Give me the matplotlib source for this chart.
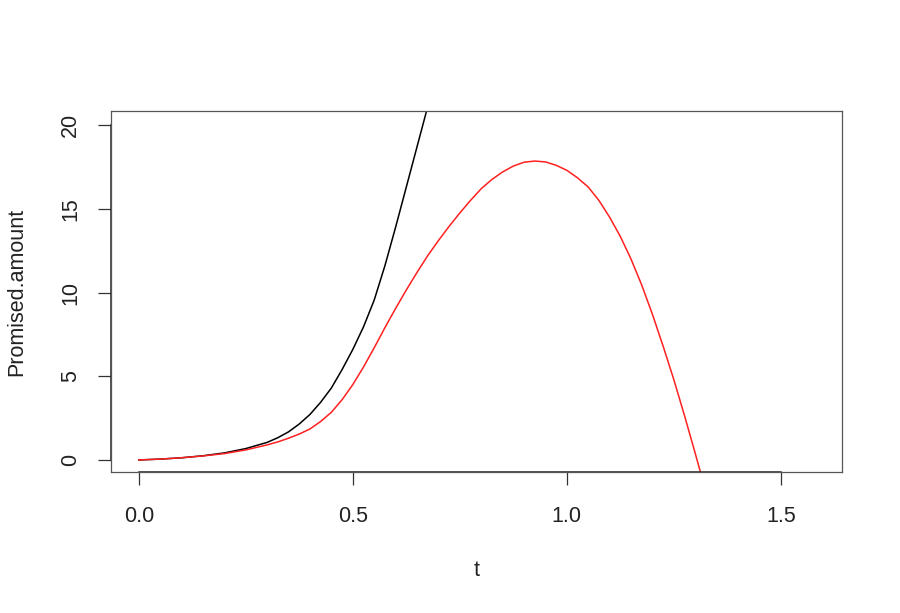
import matplotlib
matplotlib.use("Agg")
import matplotlib.pyplot as plt

plt.rcParams['font.family'] = ['Liberation Sans', 'DejaVu Sans']

# values
t_black = [0, 0.05, 0.1, 0.15, 0.2, 0.25, 0.3, 0.325, 0.35, 0.375, 0.4, 0.425, 0.45,
           0.475, 0.5, 0.525, 0.55, 0.575, 0.6, 0.625, 0.65, 0.675, 0.7, 0.75]
amount_black = [0, 0.05, 0.13, 0.25, 0.42, 0.68, 1.05, 1.33, 1.68, 2.15, 2.72, 3.45, 4.3,
                5.4, 6.6, 7.95, 9.55, 11.6, 13.9, 16.3, 18.7, 21.1, 23.5, 28.3]

t_red = [0, 0.05, 0.1, 0.15, 0.2, 0.25, 0.3, 0.325, 0.35, 0.375, 0.4, 0.425, 0.45, 0.475,
         0.5, 0.525, 0.55, 0.575, 0.6, 0.625, 0.65, 0.675, 0.7, 0.725, 0.75, 0.775, 0.8,
         0.825, 0.85, 0.875, 0.9, 0.925, 0.95, 0.975, 1.0, 1.025, 1.05, 1.075, 1.1, 1.125,
         1.15, 1.175, 1.2, 1.225, 1.25, 1.275, 1.3, 1.325, 1.35]
amount_red = [0, 0.05, 0.13, 0.24, 0.38, 0.6, 0.9, 1.08, 1.3, 1.55, 1.85, 2.3, 2.85, 3.6,
              4.5, 5.55, 6.7, 7.9, 9.05, 10.15, 11.2, 12.2, 13.1, 13.95, 14.75, 15.5, 16.2,
              16.75, 17.2, 17.55, 17.78, 17.85, 17.8, 17.6, 17.3, 16.85, 16.3, 15.5, 14.5, 13.35,
              12.0, 10.45, 8.7, 6.8, 4.8, 2.65, 0.4, -1.9, -4.3]

x_ticks = [0.0, 0.5, 1.0, 1.5]
x_labels = ['0.0', '0.5', '1.0', '1.5']
y_ticks = [0, 5, 10, 15, 20]

fig = plt.figure(figsize=(9, 6.13), dpi=100)
ax = fig.add_axes([111 / 900, 141 / 613, 731 / 900, 361 / 613])

ax.plot(t_black, amount_black, color='black', lw=1.1)
ax.plot(t_red, amount_red, color='#ff2020', lw=1.1)

ax.set_xlim(-0.065, 1.643)
ax.set_ylim(-0.72, 20.84)

ax.set_xticks(x_ticks)
ax.set_xticklabels(x_labels)
ax.set_yticks(y_ticks)
ax.tick_params(axis='both', direction='out', length=9.5, width=0.9, color='#333333',
               labelsize=15.5, labelcolor='#222222')
ax.tick_params(axis='x', pad=15)
ax.tick_params(axis='y', pad=12, labelrotation=90)
for lab in ax.get_yticklabels():
    lab.set_verticalalignment('center')

for sp in ax.spines.values():
    sp.set_linewidth(0.9)
    sp.set_color('#555555')

# R-style axis lines running from first to last tick
ax.plot([0, 1.5], [-0.72, -0.72], color='#222222', lw=1.1, clip_on=False)
ax.plot([-0.065, -0.065], [0, 20], color='#222222', lw=1.1, clip_on=False)

fig.text(476.5 / 900, 1 - 570 / 613, 't', ha='center', va='center',
         fontsize=15.5, color='#222222')
fig.text(17 / 900, 1 - 292 / 613, 'Promised.amount', ha='center', va='center',
         rotation=90, fontsize=15.5, color='#222222')

fig.savefig('out.png', dpi=100)
